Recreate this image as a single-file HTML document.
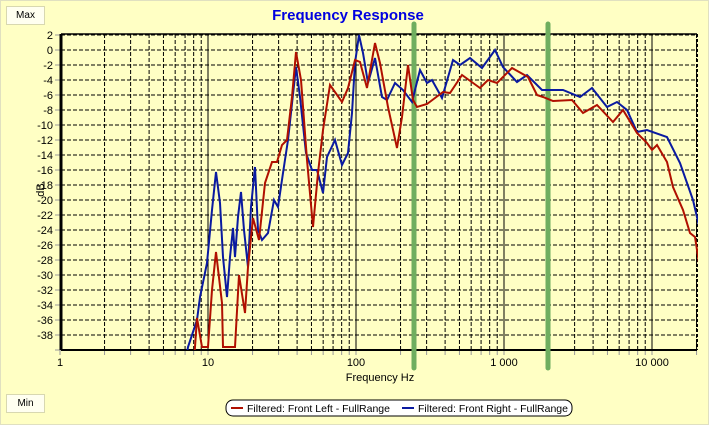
<!DOCTYPE html>
<html><head><meta charset="utf-8"><style>
html,body{margin:0;padding:0;background:#ffffc4;}
body{width:709px;height:425px;overflow:hidden;position:relative;font-family:"Liberation Sans",sans-serif;}
.btn{position:absolute;left:6px;width:37px;height:17px;background:#fffff0;border:1px solid #d8d8b0;font-size:10px;text-align:center;line-height:17px;color:#000;}
</style></head><body>
<div style="position:absolute;left:0;top:0;width:707px;height:423px;border:1px solid #e0e0c0"></div>
<div class="btn" style="top:6px">Max</div>
<div class="btn" style="top:394px">Min</div>
<svg id="s" width="709" height="425" style="position:absolute;left:0;top:0" font-family="Liberation Sans, sans-serif">
<text x="348" y="20" text-anchor="middle" font-size="15" font-weight="bold" fill="#0000e0">Frequency Response</text>
<text x="380" y="381" text-anchor="middle" font-size="11">Frequency Hz</text>
<text transform="translate(44,190) rotate(-90)" text-anchor="middle" font-size="11">dB</text>
<g id="grid"></g>
<line x1="414" y1="24" x2="414" y2="368" stroke="#6fae5f" stroke-width="5" stroke-linecap="round"/>
<line x1="548" y1="24" x2="548" y2="368" stroke="#6fae5f" stroke-width="5" stroke-linecap="round"/>
<svg x="61" y="34" width="637" height="316" viewBox="61 34 637 316" overflow="hidden">
<polyline fill="none" stroke="#0a1aa0" stroke-width="2" points="186,360 188,347 197,320 200,297 207,263 212,210 216,172 220,203 223,257 227,297 230,257 233,228 235,257 238,217 241,192 244,230 248,267 251,207 255,167 258,230 262,240 268,233 274,200 278,207 283,173 288,140 296,67 300,97 306,153 312,170 317,170 323,193 327,157 335,140 342,165 348,153 352,113 355,63 359,35 363,53 368,83 375,58 382,97 387,100 395,83 403,90 412,102 420,70 427,83 432,80 442,98 453,60 460,65 470,58 482,68 495,50 503,67 517,82 527,75 542,90 563,90 580,97 592,88 607,107 617,102 627,110 637,132 647,130 667,137 680,163 693,200 700,230"/>
<polyline fill="none" stroke="#b01000" stroke-width="2" points="194,360 195,347 197,318 202,347 208,347 212,290 216,252 222,303 223,347 235,347 239,275 245,313 248,267 253,218 259,240 265,183 272,162 277,162 282,145 287,140 292,97 296,52 301,80 307,160 313,227 318,173 323,130 330,85 342,102 348,88 355,60 360,62 367,88 375,43 380,63 388,107 397,148 402,117 408,65 413,100 417,107 427,104 443,92 450,93 462,75 480,88 488,80 497,83 512,68 528,77 537,95 543,97 553,101 572,100 583,113 597,105 613,122 623,110 637,133 647,143 652,150 657,145 667,162 673,187 683,210 690,233 695,237 699,263 701,278"/>
</svg>
<rect x="226" y="400" width="346" height="16" rx="7" fill="#fff" stroke="#000"/>
<line x1="231" y1="408" x2="243" y2="408" stroke="#b01000" stroke-width="2"/>
<text x="247" y="412" font-size="10.5">Filtered: Front Left - FullRange</text>
<line x1="402" y1="408" x2="414" y2="408" stroke="#0a1aa0" stroke-width="2"/>
<text x="418" y="412" font-size="10.5">Filtered: Front Right - FullRange</text>
</svg>
<script>
var g=document.getElementById('grid'),h='';
var X=function(f){return 60+148*Math.log10(f)};
for(var d=2;d>=-40;d-=2){var y=50-7.5*d;
 if(d>-40)h+='<line x1="61" x2="697" y1="'+y+'" y2="'+y+'" stroke="#000" stroke-dasharray="4,2"/>';
 h+='<line x1="55" x2="61" y1="'+y+'" y2="'+y+'" stroke="#999"/>';
 if(d>-40)h+='<text x="53" y="'+(y+4)+'" font-size="11" text-anchor="end">'+(d<0?'-'+(-d):d)+'</text>';}
for(var e=0;e<5;e++)for(var m=1;m<10;m++){var f=m*Math.pow(10,e);if(f>20000)break;var x=X(f);
 if(m==1){h+='<line x1="'+x+'" x2="'+x+'" y1="34" y2="350" stroke="#000"/>';}
 else h+='<line x1="'+x+'" x2="'+x+'" y1="34" y2="350" stroke="#000" stroke-dasharray="4,2"/>';
 h+='<line x1="'+x+'" x2="'+x+'" y1="350" y2="355" stroke="#999"/>';}
var labs=[[1,'1'],[10,'10'],[100,'100'],[1000,'1 000'],[10000,'10 000']];
labs.forEach(function(l){h+='<text x="'+X(l[0])+'" y="366" font-size="11" text-anchor="middle">'+l[1]+'</text>';});
h+='<line x1="697" x2="697" y1="34" y2="350" stroke="#000" stroke-width="2" stroke-dasharray="3,2"/>';
h+='<line x1="61" x2="697" y1="34" y2="34" stroke="#000" stroke-width="1.5"/>';
h+='<line x1="61" x2="697" y1="350" y2="350" stroke="#000" stroke-width="2"/>';
h+='<line x1="61" x2="61" y1="34" y2="350" stroke="#000" stroke-width="3"/>';
g.innerHTML=h;
</script>
</body></html>
